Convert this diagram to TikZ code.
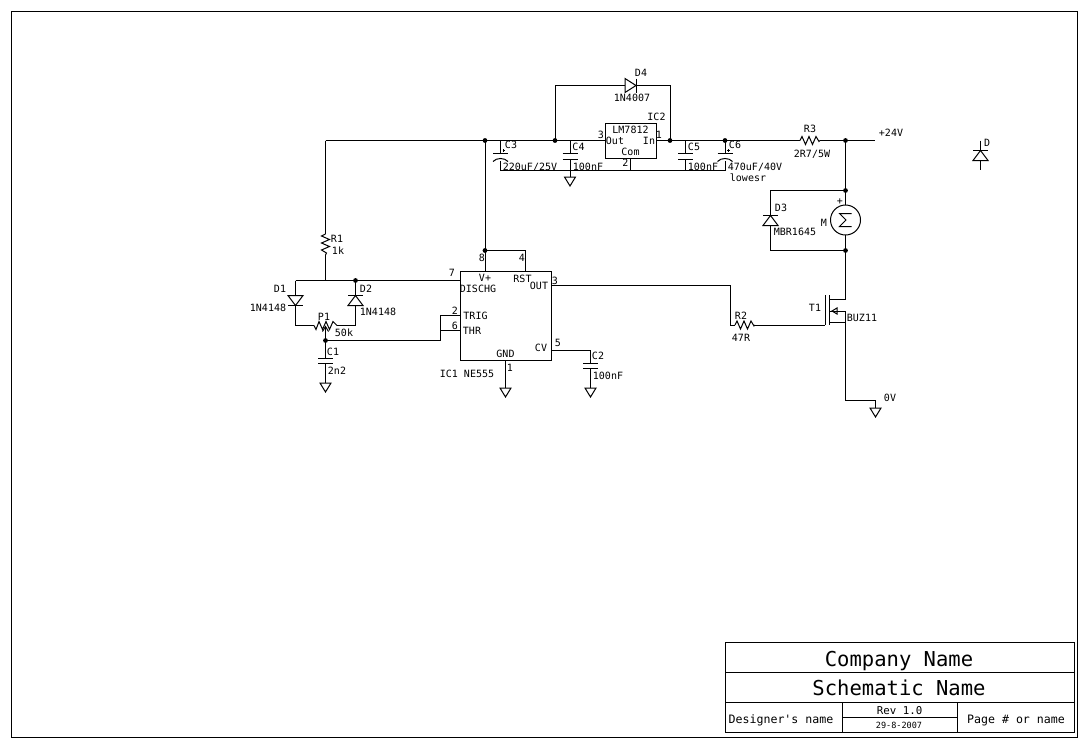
\documentclass[tikz,border=0pt]{standalone}
\usepackage{fontspec}
\setmainfont{DejaVu Sans Mono}
\newfontfamily\plainmono{DejaVu Sans Mono}
\tikzset{
  x=0.75pt,y=-0.75pt,
  every path/.style={line width=0.75pt,line cap=butt,line join=miter},
  txt/.style={inner sep=0pt,outer sep=0pt,anchor=center,text depth=0pt},
  lbl/.style={txt,text height=5.5pt,font=\fontsize{7.5pt}{8pt}\selectfont},
  wide/.style={txt,text height=6.3pt,font=\fontsize{8.7pt}{9pt}\selectfont},
  revtxt/.style={txt,text height=5.9pt,font=\fontsize{8.1pt}{8pt}\selectfont},
  datetxt/.style={txt,text height=4.7pt,font=\fontsize{6.4pt}{7pt}\selectfont},
  big/.style={txt,text height=11.2pt,font=\fontsize{15.4pt}{16pt}\selectfont},
  wire/.style={draw=black},
  box/.style={draw=black,fill=none},
  dot/.style={circle,fill=black,inner sep=0pt,minimum size=3.6pt},
  pics/gnd/.style={code={\draw (-5.5,0)--(5.5,0)--(0,9)--cycle;}},
  pics/capv/.style={code={\draw (-7.5,0)--(7.5,0) (-7.5,5.5)--(7.5,5.5);}},
  pics/polcap/.style={code={\draw (-7.5,0)--(7.5,0);
     \draw (-7.5,8) .. controls (-4,4) and (4,4) .. (7.5,8);
     \draw (2,-3)--(4.5,-3) (3.2,-4.2)--(3.2,-1.8);}},
  pics/resh/.style={code={\draw (0,0)--(2,-4)--(5.5,4)--(9,-4)--(12.5,4)--(16,-4)--(19,1)--(20,0);}},
  pics/resv/.style={code={\draw (0,0)--(-4,2)--(4,5.5)--(-4,9)--(4,12.5)--(-4,16)--(1,19)--(0,21);}},
  pics/diodedown/.style={code={\draw (-7.5,0)--(7.5,0)--(0,10)--cycle; \draw (-7.5,10)--(7.5,10);}},
  pics/diodeup/.style={code={\draw (-7.5,10)--(7.5,10)--(0,0)--cycle; \draw (-7.5,0)--(7.5,0);}},
  pics/dioderight/.style={code={\draw (0,-7)--(0,7)--(11,0)--cycle; \draw (11,-7)--(11,7);}},
}
\newcommand{\lb}[4]{\node[lbl] (#1) at (#2,#3) {#4};}
\newcommand{\pn}[3]{\coordinate (#1) at (#2,#3);}
\begin{document}
\begin{tikzpicture}
\useasboundingbox (0,0) rectangle (1089,747);
\fill[white] (0,0) rectangle (1089,747);
% frame and title block
\draw[box] (11.5,11.5) rectangle (1077.5,737.5);
\draw[box] (725,642.5) rectangle (1074.5,732.5);
\draw (725,672.5)--(1074.5,672.5) (725,702.5)--(1074.5,702.5)
      (842,702.5)--(842,732.5) (957.5,702.5)--(957.5,732.5) (842,717.5)--(957.5,717.5);
\node[big] (company) at (899,659) {Company Name};
\node[big] (schem) at (899,688) {Schematic Name};
\node[revtxt] (rev) at (899.5,711) {Rev 1.0};
\node[datetxt] (date) at (899,725) {29-8-2007};
\node[wide] (designer) at (781,719) {Designer{\plainmono 's} name};
\node[wide] (pagename) at (1016,719) {Page \# or name};
% named points
\pn{railL}{325.5}{140.5}\pn{j8}{485}{140.5}\pn{jD4L}{555}{140.5}\pn{jC4}{570}{140.5}
\pn{icOut}{605}{140.5}\pn{icIn}{656}{140.5}\pn{jD4R}{670}{140.5}\pn{jC5}{685.5}{140.5}
\pn{jC6}{725}{140.5}\pn{r3L}{800}{140.5}\pn{r3R}{820}{140.5}\pn{jTop}{845.5}{140.5}\pn{vcc}{875}{140.5}
\pn{d4TL}{555}{85.5}\pn{d4A}{625}{85.5}\pn{d4K}{636}{85.5}\pn{d4TR}{670}{85.5}
\pn{botL}{500.5}{170.5}\pn{botR}{725}{170.5}\pn{bC4}{570}{170.5}\pn{bPin2}{630}{170.5}\pn{bC5}{685.5}{170.5}
\pn{pin2T}{630}{158}\pn{c3T}{500.5}{140.5}\pn{g4}{570}{177}
\pn{jM}{845.5}{190.5}\pn{mT}{845.5}{205}\pn{mB}{845.5}{235}\pn{jMb}{845.5}{250.5}\pn{dr}{845.5}{299}
\pn{d3T}{770.5}{190.5}\pn{d3B}{770.5}{250.5}
\pn{chD}{829}{299}\pn{chS}{829}{322}\pn{sB}{845.5}{322}\pn{srcTop}{845.5}{311}\pn{srcBot}{845.5}{400.5}
\pn{chM}{829}{311}\pn{gndCorner}{875.5}{400.5}\pn{gnd0}{875.5}{408}
\pn{gate}{825}{325}\pn{r2R}{755}{325}\pn{r2L}{735}{325}\pn{out1}{730.5}{285.5}\pn{out2}{730.5}{325}
\pn{pin3}{551}{285.5}
\pn{j4}{485}{250.5}\pn{pin8}{485}{271}\pn{t4}{525}{250.5}\pn{pin4}{525}{271}
\pn{pin7}{460}{280.5}\pn{jD2}{355.5}{280.5}\pn{jR1}{325.5}{280.5}\pn{d1T}{295.5}{280.5}
\pn{r1T}{325.5}{234}\pn{r1B}{325.5}{255}
\pn{d1B}{295.5}{325.5}\pn{p1L}{314}{325.5}\pn{p1R}{337}{325.5}\pn{d2B}{355.5}{325.5}
\pn{jC1}{325.5}{340.5}\pn{wip}{325.5}{328}\pn{c1g}{325.5}{383}
\pn{t2}{440.5}{315.5}\pn{pin2}{460}{315.5}\pn{t6}{440.5}{330.5}\pn{pin6}{460}{330.5}\pn{t6b}{440.5}{340.5}
\pn{pin5}{551}{350.5}\pn{c2T}{590.5}{350.5}\pn{c2g}{590.5}{388}
\pn{pin1}{505.5}{360}\pn{g1}{505.5}{388}
\pn{dxT}{980.5}{140.5}\pn{dxB}{980.5}{170}
% wires
\draw[wire] (railL)--(r1T) (r1B)--(jR1) (railL)--(icOut) (icIn)--(r3L) (r3R)--(vcc);
\draw[wire] (jD4L)--(d4TL)--(d4A) (d4K)--(d4TR)--(jD4R);
\draw[wire] (botL)--(botR) (pin2T)--(bPin2) (c3T)--(500.5,153.5) (500.5,161)--(botL);
\draw[wire] (jC4)--(570,153.5) (570,159)--(g4);
\draw[wire] (jC5)--(685.5,153.5) (685.5,159)--(bC5);
\draw[wire] (jC6)--(725,153.5) (725,161)--(botR);
\draw[wire] (jTop)--(mT) (mB)--(dr)--(chD);
\draw[wire] (jM)--(d3T)--(770.5,215.5) (770.5,225.5)--(d3B)--(jMb);
\draw[wire] (chS)--(sB) (chM)--(srcTop)--(srcBot)--(gndCorner)--(gnd0);
\draw[wire] (pin3)--(out1)--(out2)--(r2L) (r2R)--(gate);
\draw[wire] (j8)--(pin8) (j4)--(t4)--(pin4);
\draw[wire] (d1T)--(pin7) (d1T)--(295.5,295.5) (295.5,305.5)--(d1B)--(p1L) (p1R)--(d2B)--(355.5,305.5) (355.5,295.5)--(jD2);
\draw[wire] (wip)--(jC1)--(325.5,358) (325.5,363.5)--(c1g);
\draw[wire] (jC1)--(t6b)--(t2)--(pin2) (t6)--(pin6);
\draw[wire] (pin5)--(c2T)--(590.5,363) (590.5,368.5)--(c2g);
\draw[wire] (pin1)--(g1);
\draw[wire] (dxT)--(980.5,150.5) (980.5,160.5)--(dxB);
% junctions
\foreach \j in {j8,jD4L,jD4R,jC6,jTop,jM,jMb,j4,jD2,jC1}{\node[dot] at (\j) {};}
% components
\draw[box] (605,123.5) rectangle (656,158);
\draw[box] (460.5,271) rectangle (551,360.5);
\pic at (d4A) {dioderight};
\pic at (500.5,153.5) {polcap};
\pic at (725,153.5) {polcap};
\pic at (570,153.5) {capv};
\pic at (685.5,153.5) {capv};
\pic at (325.5,358) {capv};
\pic at (590.5,363) {capv};
\pic at (g4) {gnd};
\pic at (gnd0) {gnd};
\pic at (c1g) {gnd};
\pic at (c2g) {gnd};
\pic at (g1) {gnd};
\pic at (r3L) {resh};
\pic at (r2L) {resh};
\pic at (r1T) {resv};
\draw (p1L)--(316,329.5)--(319,321.5)--(322.5,329.5)--(326,321.5)--(329.5,329.5)--(333,321.5)--(p1R);
\draw[fill=none] (322.5,331.5)--(325.5,326.5)--(328.5,331.5);
\pic at (295.5,295.5) {diodedown};
\pic at (355.5,295.5) {diodeup};
\pic at (770.5,215.5) {diodeup};
\pic at (980.5,150.5) {diodeup};
\draw (845.5,220) circle[radius=15];
\draw (851.5,213.5)--(839.5,213.5)--(846,220)--(839.5,226.5)--(851.5,226.5);
\draw (825,295)--(825,325) (829,295)--(829,325);
\draw (837,308)--(832,311)--(837,314)--cycle;
% labels
\lb{lC3}{511}{145}{C3}\lb{v220}{530}{166.5}{220uF/25V}
\lb{lC4}{578.5}{146.5}{C4}
\lb{v100a}{588}{166.5}{100nF}
\lb{p3}{601}{135}{3}\lb{p1}{659}{135}{1}\lb{p2}{625.5}{163}{2}
\lb{lm}{630.5}{129.5}{LM7812}\lb{tOut}{615}{140.5}{Out}\lb{tIn}{649}{140.5}{In}\lb{tCom}{630.5}{151.5}{Com}
\lb{lIC2}{656.5}{117}{IC2}\lb{lD4}{641}{73}{D4}\lb{v4007}{632}{98}{1N4007}
\lb{lC5}{694}{146.5}{C5}\lb{v100b}{703}{166.5}{100nF}
\lb{lC6}{735}{145}{C6}\lb{v470}{755}{166.5}{470uF/40V}\lb{esr}{748}{178}{lowesr}
\lb{lR3}{810}{129}{R3}\lb{v2r7}{812}{154}{2R7/5W}
\lb{v24}{891}{133}{+24V}
\lb{lD3}{781}{208}{D3}\lb{vMBR}{795}{232}{MBR1645}\lb{lM}{824}{223}{M}\lb{plus}{840}{201}{+}
\lb{lD}{987}{143}{D}
\lb{lR2}{741}{316}{R2}\lb{v47}{741}{338}{47R}\lb{lT1}{815}{308}{T1}\lb{vBUZ}{862}{318}{BUZ11}\lb{v0}{890}{398}{0V}
\lb{tVp}{485}{278}{V+}\lb{tRST}{522.5}{278.5}{RST}\lb{tOUT}{539}{285.5}{OUT}\lb{tDIS}{478}{288.5}{DISCHG}
\lb{tTR}{475.5}{315.5}{TRIG}\lb{tTHR}{472}{331}{THR}\lb{tGND}{505.5}{353.5}{GND}\lb{tCV}{541}{348}{CV}
\lb{lIC1}{467}{373.5}{IC1 NE555}
\lb{n7}{452}{273}{7}\lb{n2}{455}{311}{2}\lb{n6}{455}{326}{6}\lb{n8}{482}{258}{8}\lb{n4}{522}{258}{4}
\lb{n3}{555}{281}{3}\lb{n5}{558}{343}{5}\lb{n1}{510}{368}{1}
\lb{lC2}{598}{356}{C2}\lb{v100c}{608}{376}{100nF}
\lb{lD1}{280}{289}{D1}\lb{v4148a}{268}{308}{1N4148}\lb{lD2}{366}{289}{D2}\lb{v4148b}{378}{311.5}{1N4148}
\lb{lP1}{324}{317}{P1}\lb{v50}{344}{333}{50k}\lb{lC1}{333}{352}{C1}\lb{v2n2}{337}{371}{2n2}
\lb{lR1}{337}{238.5}{R1}\lb{v1k}{338}{251}{1k}
\end{tikzpicture}
\end{document}
